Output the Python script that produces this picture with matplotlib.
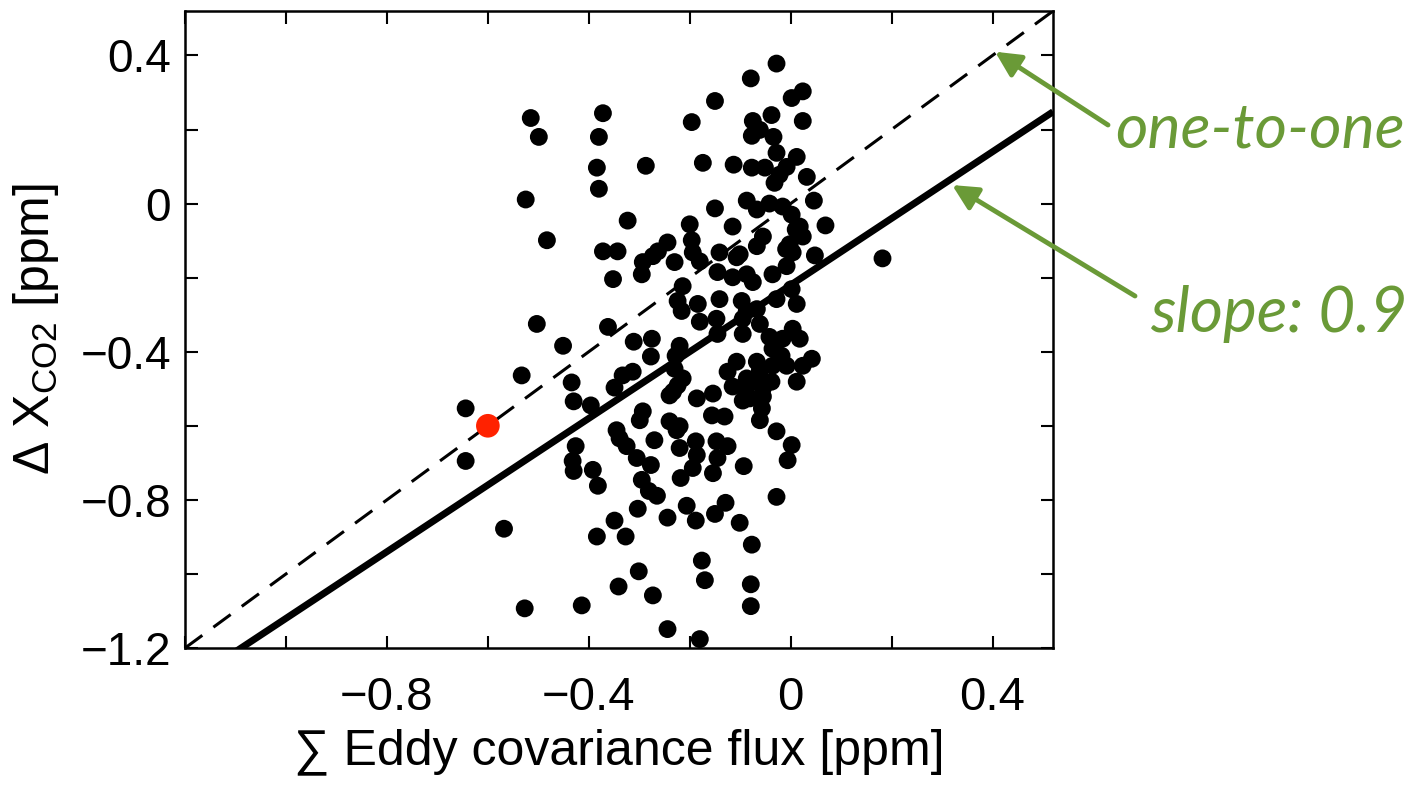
import numpy as np
import matplotlib
matplotlib.use("Agg")
import matplotlib.pyplot as plt
from matplotlib.ticker import MultipleLocator, FuncFormatter

# Cumulative eddy-covariance flux vs. column CO2 change, both in ppm
ec_flux = [
    -0.644, -0.644, -0.568, -0.533, -0.527, -0.515, -0.499, -0.525, -0.483, -0.503,
    -0.451, -0.434, -0.430, -0.426, -0.432, -0.430, -0.396, -0.392, -0.382, -0.384,
    -0.414, -0.372, -0.380, -0.384, -0.380, -0.372, -0.343, -0.352, -0.362, -0.349,
    -0.345, -0.339, -0.325, -0.349, -0.327, -0.341, -0.323, -0.333, -0.313, -0.311,
    -0.287, -0.305, -0.295, -0.303, -0.301, -0.273, -0.293, -0.299, -0.293, -0.273,
    -0.295, -0.275, -0.277, -0.270, -0.277, -0.281, -0.265, -0.263, -0.244, -0.230,
    -0.244, -0.244, -0.240, -0.224, -0.240, -0.220, -0.220, -0.218, -0.228, -0.230,
    -0.220, -0.214, -0.214, -0.224, -0.216, -0.200, -0.196, -0.194, -0.196, -0.180,
    -0.184, -0.180, -0.186, -0.186, -0.194, -0.206, -0.188, -0.176, -0.170, -0.180,
    -0.174, -0.150, -0.150, -0.141, -0.145, -0.154, -0.156, -0.131, -0.147, -0.125,
    -0.145, -0.154, -0.129, -0.150, -0.147, -0.145, -0.141, -0.113, -0.115, -0.107,
    -0.115, -0.101, -0.087, -0.075, -0.097, -0.087, -0.095, -0.095, -0.107, -0.125,
    -0.115, -0.087, -0.095, -0.101, -0.093, -0.077, -0.079, -0.079, -0.079, -0.087,
    -0.075, -0.077, -0.061, -0.077, -0.067, -0.067, -0.055, -0.067, -0.061, -0.067,
    -0.061, -0.067, -0.055, -0.055, -0.081, -0.057, -0.061, -0.051, -0.042, -0.038,
    -0.034, -0.028, -0.028, -0.016, -0.008, -0.022, -0.032, -0.036, -0.042, -0.036,
    -0.028, -0.036, -0.038, -0.028, -0.028, -0.016, -0.008, -0.018, -0.008, -0.002,
    0.004, 0.002, 0.002, 0.024, 0.024, 0.012, 0.032, 0.018, 0.024, 0.010,
    0.002, 0.012, 0.004, 0.018, 0.042, 0.024, 0.012, 0.002, -0.006, 0.046,
    0.069, 0.048, 0.182, -0.089, -0.188, -0.226, -0.233, -0.009,
]
delta_xco2 = [
    -0.553, -0.695, -0.878, -0.464, -1.093, 0.231, 0.180, 0.011, -0.099, -0.325,
    -0.384, -0.483, -0.534, -0.655, -0.695, -0.722, -0.545, -0.719, -0.762, -0.899,
    -1.085, 0.244, 0.180, 0.097, 0.040, -0.129, -0.129, -0.204, -0.333, -0.497,
    -0.612, -0.634, -0.655, -0.856, -0.899, -1.034, -0.046, -0.464, -0.454, -0.373,
    0.102, -0.687, -0.746, -0.824, -0.993, -1.058, -0.561, -0.585, -0.158, -0.142,
    -0.191, -0.365, -0.413, -0.639, -0.706, -0.776, -0.789, -0.129, -0.105, -0.158,
    -0.848, -1.149, -0.518, -0.491, -0.588, -0.601, -0.660, -0.741, -0.411, -0.446,
    -0.384, -0.472, -0.223, -0.263, -0.290, -0.056, -0.099, -0.132, 0.220, -0.156,
    -0.271, -0.319, -0.526, -0.679, -0.714, -0.816, -0.856, -0.964, -1.017, -1.176,
    0.110, 0.277, -0.013, -0.132, -0.185, -0.513, -0.572, -0.575, -0.642, -0.655,
    -0.687, -0.728, -0.808, -0.838, -0.311, -0.352, -0.258, 0.105, -0.062, -0.145,
    -0.199, -0.137, -0.191, -0.212, -0.263, -0.290, -0.311, -0.352, -0.427, -0.454,
    -0.494, -0.472, -0.532, -0.862, -0.709, -0.921, -1.028, -1.087, 0.338, 0.008,
    0.223, 0.183, 0.199, 0.097, -0.016, -0.115, -0.089, -0.285, -0.325, -0.427,
    -0.451, -0.481, -0.499, -0.521, -0.526, -0.553, -0.585, 0.097, 0.000, 0.239,
    0.180, 0.378, 0.137, -0.008, 0.099, 0.078, 0.056, -0.191, -0.360, -0.392,
    -0.258, -0.438, -0.481, -0.615, -0.792, -0.365, -0.438, -0.411, -0.169, -0.110,
    -0.132, -0.030, 0.285, 0.303, 0.223, 0.126, 0.072, -0.062, -0.089, -0.070,
    -0.231, -0.271, -0.338, -0.365, -0.419, -0.438, -0.481, -0.652, -0.693, 0.008,
    -0.059, -0.140, -0.148, -0.502, -0.642, -0.612, -0.508, -0.123,
]
highlight_flux = [-0.60]
highlight_dx = [-0.60]

fit_slope = 0.9
fit_intercept = -0.22
x_limits = (-1.2, 0.52)
y_limits = (-1.2, 0.52)
tick_step = 0.2
x_labelled_ticks = [-0.8, -0.4, 0.0, 0.4]
y_labelled_ticks = [-1.2, -0.8, -0.4, 0.0, 0.4]

green = "#6a9a37"

plt.rcParams["font.family"] = ["Liberation Sans", "DejaVu Sans"]
plt.rcParams["mathtext.fontset"] = "custom"
plt.rcParams["mathtext.rm"] = "Liberation Sans"
plt.rcParams["mathtext.default"] = "regular"

fig = plt.figure(figsize=(14.16, 7.91), dpi=100)
ax = fig.add_axes([0.1307, 0.1808, 0.6130, 0.8053])

xs = np.array(x_limits)
ax.plot(xs, xs, color="black", lw=2.2, dashes=(7, 4.5), zorder=2)
ax.plot(xs, fit_slope * xs + fit_intercept, color="black", lw=5, zorder=2,
        solid_capstyle="butt")
ax.scatter(ec_flux, delta_xco2, s=165, c="black", edgecolors="none", zorder=3)
ax.scatter(highlight_flux, highlight_dx, s=290, c="#ff2200", edgecolors="none", zorder=4)

ax.set_xlim(*x_limits)
ax.set_ylim(*y_limits)


def make_formatter(labelled):
    def fmt(v, pos):
        if not any(abs(v - t) < 1e-6 for t in labelled):
            return ""
        if abs(v) < 1e-9:
            return "0"
        return f"{v:.1f}".replace("-", "\u2212")
    return FuncFormatter(fmt)


ax.xaxis.set_major_locator(MultipleLocator(tick_step))
ax.yaxis.set_major_locator(MultipleLocator(tick_step))
ax.xaxis.set_major_formatter(make_formatter(x_labelled_ticks))
ax.yaxis.set_major_formatter(make_formatter(y_labelled_ticks))

ax.tick_params(direction="in", length=9, width=1.5, top=True, right=True)
ax.tick_params(axis="y", labelsize=33, pad=10)
ax.tick_params(axis="x", labelsize=34, pad=20)
for sp in ax.spines.values():
    sp.set_linewidth(1.8)

ax.set_xlabel("\u2211 Eddy covariance flux [ppm]", fontsize=36, labelpad=6)
ax.set_ylabel("\u0394 X$_{CO2}$ [ppm]", fontsize=36, labelpad=14)

# Annotations pointing at the two reference lines
ax.annotate("", xy=(0.405, 0.41), xycoords="data",
            xytext=(1108, 666), textcoords="figure pixels",
            arrowprops=dict(arrowstyle="-|>", color=green, lw=3.5,
                            mutation_scale=38, shrinkA=0, shrinkB=0))
ax.annotate("", xy=(0.32, 0.05), xycoords="data",
            xytext=(1135, 495), textcoords="figure pixels",
            arrowprops=dict(arrowstyle="-|>", color=green, lw=3.5,
                            mutation_scale=38, shrinkA=0, shrinkB=0))
fig.text(1115 / 1416, 1 - 147 / 791, "one-to-one", fontsize=45, style="italic",
         family=["Lato", "DejaVu Sans"], color=green, ha="left", va="baseline")
fig.text(1150 / 1416, 1 - 332 / 791, "slope: 0.9", fontsize=46, style="italic",
         family=["Lato", "DejaVu Sans"], color=green, ha="left", va="baseline")

fig.savefig("out.png", dpi=100)
